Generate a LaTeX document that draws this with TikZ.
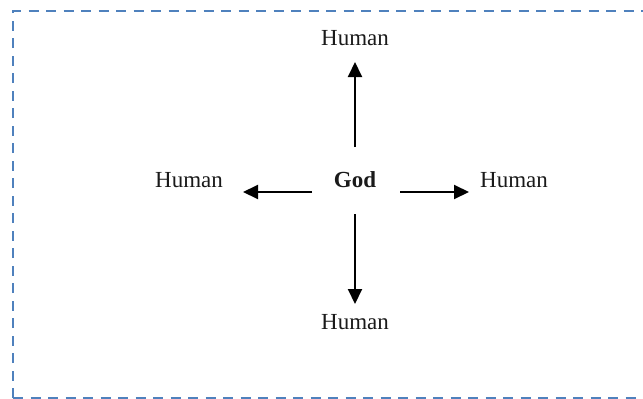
\documentclass[tikz,border=0pt]{standalone}
\usepackage{fontspec}
\setmainfont{Liberation Serif}
\usetikzlibrary{arrows.meta}
\definecolor{boxblue}{HTML}{4F81BD}
\definecolor{txt}{HTML}{1A1A1A}
\begin{document}
\begin{tikzpicture}[x=1pt,y=-1pt,
  lbl/.style={font=\fontsize{23}{28}\selectfont, text=txt, anchor=base, inner sep=0pt},
  arr/.style={line width=2pt, -{Triangle[length=15pt,width=14pt]}},
  frame/.style={draw=boxblue, line width=2pt, dash pattern=on 10pt off 7.5pt}]
\useasboundingbox (0,0) rectangle (643,399);
\clip (0,0) rectangle (643,399);
\draw[frame] (13,398) -- (13,11) -- (660,11);
\draw[frame] (13,398) -- (660,398);
\node[lbl, font=\fontsize{23}{28}\selectfont\bfseries] (god) at (355,187) {God};
\node[lbl] (top) at (355,45) {Human};
\node[lbl] (left) at (189,187) {Human};
\node[lbl] (right) at (514,187) {Human};
\node[lbl] (bottom) at (355,329) {Human};
\coordinate (u0) at (355,147); \coordinate (u1) at (355,62);
\coordinate (d0) at (355,214); \coordinate (d1) at (355,304);
\coordinate (l0) at (312,192); \coordinate (l1) at (243,192);
\coordinate (r0) at (400,192); \coordinate (r1) at (469,192);
\draw[arr] (u0) -- (u1);
\draw[arr] (d0) -- (d1);
\draw[arr] (l0) -- (l1);
\draw[arr] (r0) -- (r1);
\end{tikzpicture}
\end{document}
